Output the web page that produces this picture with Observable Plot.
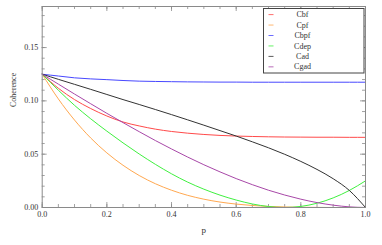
<!DOCTYPE html>
<html>
<head>
<meta charset="utf-8">
<script src="https://cdn.jsdelivr.net/npm/d3@7"></script>
<script src="https://cdn.jsdelivr.net/npm/@observablehq/plot@0.6"></script>
<style>
  html, body { margin: 0; padding: 0; background: white; }
</style>
</head>
<body>
<div id="chart"></div>
<script>
const pValues = [0, 0.05, 0.1, 0.15, 0.2, 0.25, 0.3, 0.35, 0.4, 0.45, 0.5, 0.55, 0.6, 0.65, 0.7, 0.75, 0.8, 0.85, 0.9, 0.95, 1.0];
const seriesNames = ["Cbf", "Cpf", "Cbpf", "Cdep", "Cad", "Cgad"];
const seriesColors = ["#ff4a4a", "#ffa850", "#4848ff", "#40f040", "#333333", "#a848a8"];
const Cbf  = [0.125, 0.1118, 0.1012, 0.0928, 0.0858, 0.0802, 0.0765, 0.0735, 0.0713, 0.0697, 0.0685, 0.0676, 0.0670, 0.0666, 0.0663, 0.0661, 0.0660, 0.0659, 0.0659, 0.0658, 0.0658];
const Cpf  = [0.125, 0.1018, 0.0820, 0.0652, 0.0512, 0.0396, 0.0300, 0.0223, 0.0162, 0.0114, 0.0078, 0.0051, 0.0032, 0.0019, 0.0010, 0.0005, 0.0002, 0.0001, 0.0000, 0.0000, 0.0000];
const Cbpf = [0.125, 0.1233, 0.1216, 0.1206, 0.1199, 0.1191, 0.1185, 0.1182, 0.1180, 0.1178, 0.1177, 0.1176, 0.1176, 0.1175, 0.1175, 0.1175, 0.1175, 0.1175, 0.1175, 0.1175, 0.1175];
const Cdep = [0.125, 0.1100, 0.0958, 0.0832, 0.0716, 0.0606, 0.0502, 0.0405, 0.0316, 0.0238, 0.0172, 0.0116, 0.0070, 0.0033, 0.0009, 0.0000, 0.0010, 0.0040, 0.0090, 0.0160, 0.0250];
const Cad  = [0.125, 0.1202, 0.1155, 0.1108, 0.1060, 0.1012, 0.0966, 0.0919, 0.0871, 0.0822, 0.0772, 0.0721, 0.0670, 0.0616, 0.0560, 0.0499, 0.0432, 0.0357, 0.0270, 0.0160, 0.0000];
const Cgad = [0.125, 0.1157, 0.1064, 0.0973, 0.0883, 0.0796, 0.0711, 0.0628, 0.0549, 0.0473, 0.0401, 0.0334, 0.0271, 0.0214, 0.0162, 0.0117, 0.0078, 0.0046, 0.0022, 0.0006, 0.0000];
const xMajorTicks = [0, 0.2, 0.4, 0.6, 0.8, 1.0];
const xMinorTicks = d3.range(0, 1.0001, 0.05);
const yMajorTicks = [0, 0.05, 0.10, 0.15];
const yMinorTicks = d3.range(0, 0.1851, 0.01);

const seriesValues = [Cbf, Cpf, Cbpf, Cdep, Cad, Cgad];
const rows = [];
seriesNames.forEach((name, i) => {
  pValues.forEach((p, j) => rows.push({p, v: seriesValues[i][j], s: name}));
});

const W = 382, H = 245;
const mL = 41.7, mR = 17, mT = 6, mB = 38;
const fH = H - mT - mB;
const fW = W - mL - mR;
const tickCol = "#8a8a8a";

const plot = Plot.plot({
  width: W, height: H,
  marginLeft: mL, marginRight: mR, marginTop: mT, marginBottom: mB,
  x: {domain: [0, 1], label: null},
  y: {domain: [0, 0.1885], label: null},
  color: {domain: seriesNames, range: seriesColors},
  style: {fontFamily: "'Liberation Serif', 'DejaVu Serif', serif", fontSize: "8px", background: "white", color: "#333"},
  marks: [
    Plot.ruleX(xMinorTicks, {insetTop: fH - 3, stroke: tickCol, strokeWidth: 0.8}),
    Plot.ruleX(xMinorTicks, {insetBottom: fH - 3, stroke: tickCol, strokeWidth: 0.8}),
    Plot.ruleX(xMajorTicks, {insetTop: fH - 5, stroke: tickCol, strokeWidth: 0.8}),
    Plot.ruleX(xMajorTicks, {insetBottom: fH - 5, stroke: tickCol, strokeWidth: 0.8}),
    Plot.ruleY(yMinorTicks, {insetRight: fW - 3, stroke: tickCol, strokeWidth: 0.8}),
    Plot.ruleY(yMinorTicks, {insetLeft: fW - 3, stroke: tickCol, strokeWidth: 0.8}),
    Plot.ruleY(yMajorTicks, {insetRight: fW - 5, stroke: tickCol, strokeWidth: 0.8}),
    Plot.ruleY(yMajorTicks, {insetLeft: fW - 5, stroke: tickCol, strokeWidth: 0.8}),
    Plot.axisX({ticks: xMajorTicks, tickSize: 0, tickPadding: 4, tickFormat: d3.format(".1f"), label: null, fill: "#333"}),
    Plot.axisY({ticks: yMajorTicks, tickSize: 0, tickPadding: 4, tickFormat: d3.format(".2f"), label: null, fill: "#333"}),
    Plot.line(rows, {x: "p", y: "v", stroke: "s", z: "s", curve: "monotone-x", strokeWidth: 1}),
    Plot.frame({stroke: "#8a8a8a", strokeWidth: 1}),
    Plot.text(["Coherence"], {frameAnchor: "left", dx: -29, rotate: -90, fontSize: 8, fill: "#333"}),
    Plot.text(["p"], {frameAnchor: "bottom", dy: 25, fontSize: 9, fill: "#333"})
  ]
});
document.getElementById("chart").appendChild(plot);

// legend box inside the plot
const svg = d3.select(plot);
const lg = svg.append("g").attr("font-family", "'Liberation Serif', 'DejaVu Serif', serif").attr("font-size", 8);
lg.append("rect").attr("x", 263.5).attr("y", 8.5).attr("width", 100.5).attr("height", 64.5)
  .attr("fill", "white").attr("stroke", "#444").attr("stroke-width", 1);
seriesNames.forEach((name, i) => {
  const y = 14.6 + i * 10.45;
  lg.append("line").attr("x1", 268.5).attr("x2", 273.5).attr("y1", y).attr("y2", y)
    .attr("stroke", seriesColors[i]).attr("stroke-width", 1).attr("opacity", 0.8);
  lg.append("text").attr("x", 302.5).attr("y", y).attr("dy", "0.32em").attr("fill", "#333").text(name);
});
</script>
</body>
</html>
